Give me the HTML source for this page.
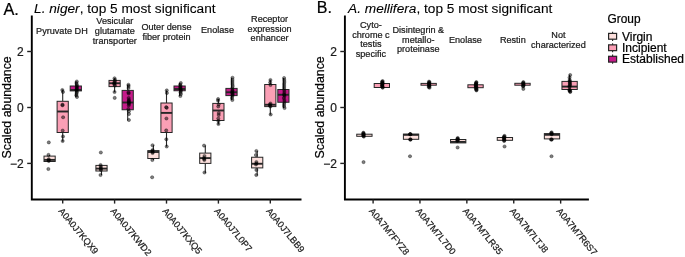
<!DOCTYPE html>
<html><head><meta charset="utf-8"><style>
html,body{margin:0;padding:0;background:#fff;}
svg{display:block;will-change:transform;font-family:"Liberation Sans",sans-serif;}
text{stroke:currentColor;stroke-width:0.22px;}
</style></head><body>
<svg width="685" height="257" viewBox="0 0 685 257">
<rect width="685" height="257" fill="#fff"/>
<g stroke="#000" stroke-width="1.9" fill="none" stroke-linecap="butt">
<path d="M31.8 15.5 V199.5 H301.5"/>
<path d="M344.9 15.5 V199.5 H588.9"/>
</g>
<g stroke="#222" stroke-width="1.4">
<line x1="62.7" y1="199.5" x2="62.7" y2="203.6"/>
<line x1="114.6" y1="199.5" x2="114.6" y2="203.6"/>
<line x1="166.5" y1="199.5" x2="166.5" y2="203.6"/>
<line x1="218.4" y1="199.5" x2="218.4" y2="203.6"/>
<line x1="270.3" y1="199.5" x2="270.3" y2="203.6"/>
<line x1="373.1" y1="199.5" x2="373.1" y2="203.6"/>
<line x1="419.95" y1="199.5" x2="419.95" y2="203.6"/>
<line x1="466.85" y1="199.5" x2="466.85" y2="203.6"/>
<line x1="513.75" y1="199.5" x2="513.75" y2="203.6"/>
<line x1="560.65" y1="199.5" x2="560.65" y2="203.6"/>
<line x1="27.20" y1="51.5" x2="31.8" y2="51.5"/>
<line x1="27.20" y1="107.5" x2="31.8" y2="107.5"/>
<line x1="27.20" y1="163.4" x2="31.8" y2="163.4"/>
<line x1="340.30" y1="51.5" x2="344.9" y2="51.5"/>
<line x1="340.30" y1="107.5" x2="344.9" y2="107.5"/>
<line x1="340.30" y1="163.4" x2="344.9" y2="163.4"/>
</g>
<line x1="49.6" y1="155.0" x2="49.6" y2="156.1" stroke="#262626" stroke-width="1.1"/>
<rect x="44.00" y="156.1" width="11.20" height="5.40" fill="#FDE0DD" stroke="#262626" stroke-width="1.0"/>
<line x1="44.00" y1="159.9" x2="55.20" y2="159.9" stroke="#262626" stroke-width="1.9"/>
<line x1="62.7" y1="89.5" x2="62.7" y2="101.3" stroke="#262626" stroke-width="1.1"/>
<line x1="62.7" y1="132.5" x2="62.7" y2="141.5" stroke="#262626" stroke-width="1.1"/>
<rect x="57.10" y="101.3" width="11.20" height="31.20" fill="#FA9FB5" stroke="#262626" stroke-width="1.0"/>
<line x1="57.10" y1="111.5" x2="68.30" y2="111.5" stroke="#262626" stroke-width="1.9"/>
<line x1="75.8" y1="81.5" x2="75.8" y2="86.0" stroke="#262626" stroke-width="1.1"/>
<line x1="75.8" y1="90.9" x2="75.8" y2="97.0" stroke="#262626" stroke-width="1.1"/>
<rect x="70.20" y="86.0" width="11.20" height="4.90" fill="#C51B8A" stroke="#262626" stroke-width="1.0"/>
<line x1="70.20" y1="90.0" x2="81.40" y2="90.0" stroke="#262626" stroke-width="1.9"/>
<line x1="101.5" y1="165.0" x2="101.5" y2="165.4" stroke="#262626" stroke-width="1.1"/>
<line x1="101.5" y1="171.0" x2="101.5" y2="175.0" stroke="#262626" stroke-width="1.1"/>
<rect x="95.90" y="165.4" width="11.20" height="5.60" fill="#FDE0DD" stroke="#262626" stroke-width="1.0"/>
<line x1="95.90" y1="168.6" x2="107.10" y2="168.6" stroke="#262626" stroke-width="1.9"/>
<line x1="114.6" y1="78.3" x2="114.6" y2="80.4" stroke="#262626" stroke-width="1.1"/>
<line x1="114.6" y1="86.6" x2="114.6" y2="92.25" stroke="#262626" stroke-width="1.1"/>
<rect x="109.00" y="80.4" width="11.20" height="6.20" fill="#FA9FB5" stroke="#262626" stroke-width="1.0"/>
<line x1="109.00" y1="83.25" x2="120.20" y2="83.25" stroke="#262626" stroke-width="1.9"/>
<line x1="127.69999999999999" y1="84.75" x2="127.69999999999999" y2="90.4" stroke="#262626" stroke-width="1.1"/>
<line x1="127.69999999999999" y1="109.75" x2="127.69999999999999" y2="120.6" stroke="#262626" stroke-width="1.1"/>
<rect x="122.10" y="90.4" width="11.20" height="19.35" fill="#C51B8A" stroke="#262626" stroke-width="1.0"/>
<line x1="122.10" y1="102.5" x2="133.30" y2="102.5" stroke="#262626" stroke-width="1.9"/>
<line x1="153.4" y1="145.25" x2="153.4" y2="150.6" stroke="#262626" stroke-width="1.1"/>
<line x1="153.4" y1="158.5" x2="153.4" y2="160.0" stroke="#262626" stroke-width="1.1"/>
<rect x="147.80" y="150.6" width="11.20" height="7.90" fill="#FDE0DD" stroke="#262626" stroke-width="1.0"/>
<line x1="147.80" y1="152.0" x2="159.00" y2="152.0" stroke="#262626" stroke-width="1.9"/>
<line x1="166.5" y1="90.4" x2="166.5" y2="103.0" stroke="#262626" stroke-width="1.1"/>
<line x1="166.5" y1="132.5" x2="166.5" y2="146.6" stroke="#262626" stroke-width="1.1"/>
<rect x="160.90" y="103.0" width="11.20" height="29.50" fill="#FA9FB5" stroke="#262626" stroke-width="1.0"/>
<line x1="160.90" y1="112.9" x2="172.10" y2="112.9" stroke="#262626" stroke-width="1.9"/>
<line x1="179.6" y1="83.0" x2="179.6" y2="86.0" stroke="#262626" stroke-width="1.1"/>
<line x1="179.6" y1="90.75" x2="179.6" y2="96.0" stroke="#262626" stroke-width="1.1"/>
<rect x="174.00" y="86.0" width="11.20" height="4.75" fill="#C51B8A" stroke="#262626" stroke-width="1.0"/>
<line x1="174.00" y1="89.0" x2="185.20" y2="89.0" stroke="#262626" stroke-width="1.9"/>
<line x1="205.3" y1="145.6" x2="205.3" y2="153.1" stroke="#262626" stroke-width="1.1"/>
<line x1="205.3" y1="163.4" x2="205.3" y2="173.0" stroke="#262626" stroke-width="1.1"/>
<rect x="199.70" y="153.1" width="11.20" height="10.30" fill="#FDE0DD" stroke="#262626" stroke-width="1.0"/>
<line x1="199.70" y1="158.1" x2="210.90" y2="158.1" stroke="#262626" stroke-width="1.9"/>
<line x1="218.4" y1="99.0" x2="218.4" y2="103.4" stroke="#262626" stroke-width="1.1"/>
<line x1="218.4" y1="120.5" x2="218.4" y2="124.6" stroke="#262626" stroke-width="1.1"/>
<rect x="212.80" y="103.4" width="11.20" height="17.10" fill="#FA9FB5" stroke="#262626" stroke-width="1.0"/>
<line x1="212.80" y1="110.5" x2="224.00" y2="110.5" stroke="#262626" stroke-width="1.9"/>
<line x1="231.5" y1="77.75" x2="231.5" y2="88.4" stroke="#262626" stroke-width="1.1"/>
<line x1="231.5" y1="95.6" x2="231.5" y2="100.0" stroke="#262626" stroke-width="1.1"/>
<rect x="225.90" y="88.4" width="11.20" height="7.20" fill="#C51B8A" stroke="#262626" stroke-width="1.0"/>
<line x1="225.90" y1="92.25" x2="237.10" y2="92.25" stroke="#262626" stroke-width="1.9"/>
<line x1="257.2" y1="151.0" x2="257.2" y2="157.25" stroke="#262626" stroke-width="1.1"/>
<line x1="257.2" y1="167.9" x2="257.2" y2="175.4" stroke="#262626" stroke-width="1.1"/>
<rect x="251.60" y="157.25" width="11.20" height="10.65" fill="#FDE0DD" stroke="#262626" stroke-width="1.0"/>
<line x1="251.60" y1="163.75" x2="262.80" y2="163.75" stroke="#262626" stroke-width="1.9"/>
<line x1="270.3" y1="79.75" x2="270.3" y2="84.5" stroke="#262626" stroke-width="1.1"/>
<line x1="270.3" y1="106.6" x2="270.3" y2="114.75" stroke="#262626" stroke-width="1.1"/>
<rect x="264.70" y="84.5" width="11.20" height="22.10" fill="#FA9FB5" stroke="#262626" stroke-width="1.0"/>
<line x1="264.70" y1="104.75" x2="275.90" y2="104.75" stroke="#262626" stroke-width="1.9"/>
<line x1="283.40000000000003" y1="78.0" x2="283.40000000000003" y2="89.5" stroke="#262626" stroke-width="1.1"/>
<line x1="283.40000000000003" y1="102.25" x2="283.40000000000003" y2="107.9" stroke="#262626" stroke-width="1.1"/>
<rect x="277.80" y="89.5" width="11.20" height="12.75" fill="#C51B8A" stroke="#262626" stroke-width="1.0"/>
<line x1="277.80" y1="94.75" x2="289.00" y2="94.75" stroke="#262626" stroke-width="1.9"/>
<rect x="356.75" y="134.2" width="15.30" height="2.10" fill="#FDE0DD" stroke="#262626" stroke-width="1.0"/>
<rect x="374.20" y="83.5" width="15.30" height="4.00" fill="#FA9FB5" stroke="#262626" stroke-width="1.0"/>
<rect x="403.40" y="134.1" width="15.30" height="5.20" fill="#FDE0DD" stroke="#262626" stroke-width="1.0"/>
<line x1="403.40" y1="134.85" x2="418.70" y2="134.85" stroke="#262626" stroke-width="1.9"/>
<rect x="421.00" y="83.4" width="15.30" height="1.80" fill="#FA9FB5" stroke="#262626" stroke-width="1.0"/>
<rect x="450.55" y="139.5" width="15.30" height="3.40" fill="#FDE0DD" stroke="#262626" stroke-width="1.0"/>
<line x1="450.55" y1="141.9" x2="465.85" y2="141.9" stroke="#262626" stroke-width="1.9"/>
<rect x="467.90" y="84.8" width="15.30" height="2.90" fill="#FA9FB5" stroke="#262626" stroke-width="1.0"/>
<rect x="497.25" y="137.5" width="15.30" height="2.80" fill="#FDE0DD" stroke="#262626" stroke-width="1.0"/>
<rect x="514.85" y="83.3" width="15.30" height="1.90" fill="#FA9FB5" stroke="#262626" stroke-width="1.0"/>
<rect x="544.35" y="133.6" width="15.30" height="5.30" fill="#FDE0DD" stroke="#262626" stroke-width="1.0"/>
<line x1="544.35" y1="134.8" x2="559.65" y2="134.8" stroke="#262626" stroke-width="1.9"/>
<line x1="569.6" y1="74.8" x2="569.6" y2="81.4" stroke="#262626" stroke-width="1.1"/>
<line x1="569.6" y1="89.5" x2="569.6" y2="92.0" stroke="#262626" stroke-width="1.1"/>
<rect x="561.95" y="81.4" width="15.30" height="8.10" fill="#FA9FB5" stroke="#262626" stroke-width="1.0"/>
<line x1="561.95" y1="86.6" x2="577.25" y2="86.6" stroke="#262626" stroke-width="1.9"/>
<g fill="#000" fill-opacity="0.5" stroke="#000" stroke-opacity="0.5" stroke-width="0.7">
<circle cx="48.49" cy="154.9" r="1.6"/>
<circle cx="48.74" cy="159.2" r="1.6"/>
<circle cx="48.60" cy="160.2" r="1.6"/>
<circle cx="48.78" cy="161.0" r="1.6"/>
<circle cx="48.80" cy="142.4" r="1.6"/>
<circle cx="48.35" cy="169.0" r="1.6"/>
<circle cx="62.31" cy="90" r="1.6"/>
<circle cx="62.97" cy="92" r="1.6"/>
<circle cx="62.51" cy="104.7" r="1.6"/>
<circle cx="62.49" cy="105.3" r="1.6"/>
<circle cx="63.10" cy="117.25" r="1.6"/>
<circle cx="62.68" cy="130.6" r="1.6"/>
<circle cx="62.97" cy="136.5" r="1.6"/>
<circle cx="62.68" cy="141" r="1.6"/>
<circle cx="76.81" cy="81.5" r="1.6"/>
<circle cx="76.42" cy="83" r="1.6"/>
<circle cx="76.81" cy="84.5" r="1.6"/>
<circle cx="76.99" cy="86" r="1.6"/>
<circle cx="76.72" cy="87" r="1.6"/>
<circle cx="76.89" cy="88" r="1.6"/>
<circle cx="76.84" cy="89" r="1.6"/>
<circle cx="76.35" cy="90" r="1.6"/>
<circle cx="76.91" cy="91" r="1.6"/>
<circle cx="76.77" cy="92.5" r="1.6"/>
<circle cx="76.54" cy="94" r="1.6"/>
<circle cx="76.32" cy="95.5" r="1.6"/>
<circle cx="76.99" cy="97" r="1.6"/>
<circle cx="100.58" cy="165" r="1.6"/>
<circle cx="100.78" cy="166.5" r="1.6"/>
<circle cx="100.90" cy="168" r="1.6"/>
<circle cx="100.77" cy="169" r="1.6"/>
<circle cx="100.94" cy="170" r="1.6"/>
<circle cx="100.52" cy="175" r="1.6"/>
<circle cx="100.84" cy="152.5" r="1.6"/>
<circle cx="114.56" cy="78.3" r="1.6"/>
<circle cx="114.95" cy="80" r="1.6"/>
<circle cx="114.90" cy="81.5" r="1.6"/>
<circle cx="114.28" cy="82.5" r="1.6"/>
<circle cx="114.31" cy="83.5" r="1.6"/>
<circle cx="114.37" cy="84.5" r="1.6"/>
<circle cx="114.97" cy="85.5" r="1.6"/>
<circle cx="114.55" cy="92" r="1.6"/>
<circle cx="114.70" cy="97.9" r="1.6"/>
<circle cx="128.44" cy="84.75" r="1.6"/>
<circle cx="128.61" cy="86" r="1.6"/>
<circle cx="128.51" cy="88" r="1.6"/>
<circle cx="128.48" cy="92.3" r="1.6"/>
<circle cx="128.67" cy="93.5" r="1.6"/>
<circle cx="128.67" cy="98" r="1.6"/>
<circle cx="128.92" cy="100" r="1.6"/>
<circle cx="128.75" cy="101" r="1.6"/>
<circle cx="128.94" cy="102" r="1.6"/>
<circle cx="128.89" cy="103" r="1.6"/>
<circle cx="128.99" cy="104" r="1.6"/>
<circle cx="128.74" cy="105.5" r="1.6"/>
<circle cx="128.33" cy="109" r="1.6"/>
<circle cx="128.89" cy="111.25" r="1.6"/>
<circle cx="128.97" cy="114" r="1.6"/>
<circle cx="128.92" cy="120" r="1.6"/>
<circle cx="152.56" cy="145.25" r="1.6"/>
<circle cx="152.67" cy="150" r="1.6"/>
<circle cx="152.27" cy="151" r="1.6"/>
<circle cx="152.77" cy="152" r="1.6"/>
<circle cx="152.56" cy="153" r="1.6"/>
<circle cx="152.33" cy="160" r="1.6"/>
<circle cx="152.15" cy="177.25" r="1.6"/>
<circle cx="166.78" cy="90.4" r="1.6"/>
<circle cx="166.89" cy="93" r="1.6"/>
<circle cx="166.17" cy="107.2" r="1.6"/>
<circle cx="166.74" cy="107.8" r="1.6"/>
<circle cx="166.43" cy="118.5" r="1.6"/>
<circle cx="166.22" cy="130.4" r="1.6"/>
<circle cx="166.34" cy="139.25" r="1.6"/>
<circle cx="166.72" cy="146.5" r="1.6"/>
<circle cx="180.80" cy="83" r="1.6"/>
<circle cx="180.14" cy="84.5" r="1.6"/>
<circle cx="180.59" cy="86" r="1.6"/>
<circle cx="180.14" cy="87" r="1.6"/>
<circle cx="180.67" cy="88" r="1.6"/>
<circle cx="180.36" cy="89" r="1.6"/>
<circle cx="180.80" cy="90" r="1.6"/>
<circle cx="180.88" cy="91" r="1.6"/>
<circle cx="180.50" cy="92.5" r="1.6"/>
<circle cx="180.90" cy="94" r="1.6"/>
<circle cx="180.35" cy="96" r="1.6"/>
<circle cx="204.06" cy="145.6" r="1.6"/>
<circle cx="204.48" cy="156" r="1.6"/>
<circle cx="204.03" cy="158" r="1.6"/>
<circle cx="204.16" cy="159" r="1.6"/>
<circle cx="204.33" cy="160" r="1.6"/>
<circle cx="204.49" cy="172.5" r="1.6"/>
<circle cx="218.12" cy="99" r="1.6"/>
<circle cx="218.03" cy="100.5" r="1.6"/>
<circle cx="218.69" cy="104.5" r="1.6"/>
<circle cx="218.25" cy="106.5" r="1.6"/>
<circle cx="218.77" cy="113" r="1.6"/>
<circle cx="218.72" cy="115" r="1.6"/>
<circle cx="218.30" cy="118.5" r="1.6"/>
<circle cx="218.37" cy="121" r="1.6"/>
<circle cx="218.42" cy="124" r="1.6"/>
<circle cx="232.52" cy="77.75" r="1.6"/>
<circle cx="232.48" cy="80" r="1.6"/>
<circle cx="232.45" cy="82" r="1.6"/>
<circle cx="232.50" cy="84" r="1.6"/>
<circle cx="232.75" cy="86" r="1.6"/>
<circle cx="232.41" cy="88" r="1.6"/>
<circle cx="232.34" cy="90" r="1.6"/>
<circle cx="232.58" cy="91" r="1.6"/>
<circle cx="232.19" cy="92" r="1.6"/>
<circle cx="232.24" cy="93" r="1.6"/>
<circle cx="232.78" cy="94" r="1.6"/>
<circle cx="232.42" cy="95" r="1.6"/>
<circle cx="232.44" cy="96" r="1.6"/>
<circle cx="232.01" cy="98" r="1.6"/>
<circle cx="232.33" cy="100" r="1.6"/>
<circle cx="256.36" cy="151" r="1.6"/>
<circle cx="255.92" cy="155" r="1.6"/>
<circle cx="256.39" cy="162" r="1.6"/>
<circle cx="256.41" cy="163.5" r="1.6"/>
<circle cx="255.95" cy="164.5" r="1.6"/>
<circle cx="256.40" cy="170" r="1.6"/>
<circle cx="256.27" cy="175" r="1.6"/>
<circle cx="270.44" cy="80" r="1.6"/>
<circle cx="270.18" cy="82.5" r="1.6"/>
<circle cx="270.47" cy="85" r="1.6"/>
<circle cx="270.49" cy="103.5" r="1.6"/>
<circle cx="269.92" cy="104.5" r="1.6"/>
<circle cx="269.95" cy="105.5" r="1.6"/>
<circle cx="270.44" cy="106.5" r="1.6"/>
<circle cx="270.67" cy="114.5" r="1.6"/>
<circle cx="284.10" cy="78" r="1.6"/>
<circle cx="284.27" cy="80" r="1.6"/>
<circle cx="284.37" cy="82" r="1.6"/>
<circle cx="284.16" cy="84" r="1.6"/>
<circle cx="284.19" cy="86" r="1.6"/>
<circle cx="284.15" cy="88" r="1.6"/>
<circle cx="284.20" cy="90" r="1.6"/>
<circle cx="284.38" cy="92" r="1.6"/>
<circle cx="284.14" cy="94" r="1.6"/>
<circle cx="284.20" cy="95" r="1.6"/>
<circle cx="284.52" cy="96" r="1.6"/>
<circle cx="283.92" cy="98" r="1.6"/>
<circle cx="284.36" cy="100" r="1.6"/>
<circle cx="284.49" cy="102" r="1.6"/>
<circle cx="284.15" cy="104" r="1.6"/>
<circle cx="284.08" cy="106" r="1.6"/>
<circle cx="284.54" cy="108" r="1.6"/>
<circle cx="363.39" cy="132.7" r="1.6"/>
<circle cx="363.35" cy="133.25714285714284" r="1.6"/>
<circle cx="363.55" cy="133.81428571428572" r="1.6"/>
<circle cx="363.76" cy="134.37142857142857" r="1.6"/>
<circle cx="363.28" cy="134.92857142857142" r="1.6"/>
<circle cx="363.46" cy="135.48571428571427" r="1.6"/>
<circle cx="363.47" cy="136.04285714285714" r="1.6"/>
<circle cx="363.87" cy="136.6" r="1.6"/>
<circle cx="363.55" cy="162.1" r="1.6"/>
<circle cx="382.68" cy="81.1" r="1.6"/>
<circle cx="382.14" cy="81.69999999999999" r="1.6"/>
<circle cx="382.27" cy="82.3" r="1.6"/>
<circle cx="382.52" cy="82.89999999999999" r="1.6"/>
<circle cx="382.71" cy="83.5" r="1.6"/>
<circle cx="382.36" cy="84.1" r="1.6"/>
<circle cx="382.18" cy="84.7" r="1.6"/>
<circle cx="382.10" cy="85.3" r="1.6"/>
<circle cx="382.42" cy="85.9" r="1.6"/>
<circle cx="382.15" cy="86.5" r="1.6"/>
<circle cx="382.65" cy="87.10000000000001" r="1.6"/>
<circle cx="382.67" cy="87.7" r="1.6"/>
<circle cx="410.05" cy="134.2" r="1.6"/>
<circle cx="410.12" cy="134.2" r="1.6"/>
<circle cx="410.55" cy="134.2" r="1.6"/>
<circle cx="410.41" cy="139.5" r="1.6"/>
<circle cx="410.55" cy="139.5" r="1.6"/>
<circle cx="410.18" cy="139.5" r="1.6"/>
<circle cx="410.00" cy="156.25" r="1.6"/>
<circle cx="429.03" cy="81.6" r="1.6"/>
<circle cx="429.44" cy="82.21" r="1.6"/>
<circle cx="429.02" cy="82.82" r="1.6"/>
<circle cx="429.08" cy="83.42999999999999" r="1.6"/>
<circle cx="429.13" cy="84.03999999999999" r="1.6"/>
<circle cx="429.14" cy="84.65" r="1.6"/>
<circle cx="429.13" cy="85.26" r="1.6"/>
<circle cx="429.54" cy="85.87" r="1.6"/>
<circle cx="428.92" cy="86.48" r="1.6"/>
<circle cx="428.80" cy="87.09" r="1.6"/>
<circle cx="429.55" cy="87.7" r="1.6"/>
<circle cx="457.70" cy="138.0" r="1.6"/>
<circle cx="457.79" cy="138.6" r="1.6"/>
<circle cx="457.35" cy="139.2" r="1.6"/>
<circle cx="457.76" cy="139.8" r="1.6"/>
<circle cx="457.74" cy="140.4" r="1.6"/>
<circle cx="457.18" cy="141.0" r="1.6"/>
<circle cx="457.60" cy="147.5" r="1.6"/>
<circle cx="476.37" cy="82.1" r="1.6"/>
<circle cx="476.23" cy="82.69285714285714" r="1.6"/>
<circle cx="476.12" cy="83.28571428571428" r="1.6"/>
<circle cx="475.93" cy="83.87857142857142" r="1.6"/>
<circle cx="475.97" cy="84.47142857142858" r="1.6"/>
<circle cx="475.88" cy="85.06428571428572" r="1.6"/>
<circle cx="475.75" cy="85.65714285714286" r="1.6"/>
<circle cx="476.17" cy="86.25" r="1.6"/>
<circle cx="475.93" cy="86.84285714285714" r="1.6"/>
<circle cx="476.35" cy="87.43571428571428" r="1.6"/>
<circle cx="475.74" cy="88.02857142857142" r="1.6"/>
<circle cx="476.42" cy="88.62142857142858" r="1.6"/>
<circle cx="476.25" cy="89.21428571428572" r="1.6"/>
<circle cx="476.44" cy="89.80714285714286" r="1.6"/>
<circle cx="476.42" cy="90.4" r="1.6"/>
<circle cx="504.52" cy="135.9" r="1.6"/>
<circle cx="504.26" cy="136.5375" r="1.6"/>
<circle cx="503.81" cy="137.175" r="1.6"/>
<circle cx="504.40" cy="137.8125" r="1.6"/>
<circle cx="503.94" cy="138.45" r="1.6"/>
<circle cx="504.04" cy="139.0875" r="1.6"/>
<circle cx="504.33" cy="139.725" r="1.6"/>
<circle cx="504.22" cy="140.3625" r="1.6"/>
<circle cx="504.13" cy="141.0" r="1.6"/>
<circle cx="504.55" cy="146.5" r="1.6"/>
<circle cx="523.39" cy="82.1" r="1.6"/>
<circle cx="523.17" cy="82.72857142857143" r="1.6"/>
<circle cx="523.10" cy="83.35714285714285" r="1.6"/>
<circle cx="523.59" cy="83.98571428571428" r="1.6"/>
<circle cx="523.28" cy="84.61428571428571" r="1.6"/>
<circle cx="523.53" cy="85.24285714285715" r="1.6"/>
<circle cx="523.18" cy="85.87142857142857" r="1.6"/>
<circle cx="523.06" cy="86.5" r="1.6"/>
<circle cx="523.33" cy="88.9" r="1.6"/>
<circle cx="551.65" cy="132.4" r="1.6"/>
<circle cx="551.14" cy="133.03333333333333" r="1.6"/>
<circle cx="551.63" cy="133.66666666666669" r="1.6"/>
<circle cx="551.74" cy="134.3" r="1.6"/>
<circle cx="551.64" cy="139.5" r="1.6"/>
<circle cx="551.66" cy="139.5" r="1.6"/>
<circle cx="551.01" cy="139.5" r="1.6"/>
<circle cx="551.50" cy="156.25" r="1.6"/>
<circle cx="570.19" cy="75" r="1.6"/>
<circle cx="569.54" cy="77.6" r="1.6"/>
<circle cx="569.72" cy="80.0" r="1.6"/>
<circle cx="569.71" cy="81.0" r="1.6"/>
<circle cx="569.92" cy="82.0" r="1.6"/>
<circle cx="569.84" cy="83.0" r="1.6"/>
<circle cx="569.88" cy="84.0" r="1.6"/>
<circle cx="570.12" cy="85.0" r="1.6"/>
<circle cx="569.50" cy="86.0" r="1.6"/>
<circle cx="569.54" cy="87.0" r="1.6"/>
<circle cx="569.60" cy="89.6" r="1.6"/>
<circle cx="569.60" cy="90.19999999999999" r="1.6"/>
<circle cx="569.55" cy="90.8" r="1.6"/>
<circle cx="570.28" cy="91.4" r="1.6"/>
<circle cx="570.18" cy="92.0" r="1.6"/>
</g>
<g font-size="12" fill="#1a1a1a" color="#1a1a1a" text-anchor="end">
<text x="23.8" y="55.8">2</text>
<text x="23.8" y="111.8">0</text>
<text x="23.8" y="167.70000000000002">−2</text>
<text x="336.9" y="55.8">2</text>
<text x="336.9" y="111.8">0</text>
<text x="336.9" y="167.70000000000002">−2</text>
</g>
<text font-size="12.35" text-anchor="middle" transform="translate(10.6,107.4) rotate(-90)">Scaled abundance</text>
<text font-size="12.35" text-anchor="middle" transform="translate(323.8,107.4) rotate(-90)">Scaled abundance</text>
<g font-size="9.17" fill="#1a1a1a" color="#1a1a1a">
<text transform="translate(58.10,211.2) rotate(50.5)">A0A0J7KQX9</text>
<text transform="translate(110.00,211.2) rotate(50.5)">A0A0J7KWD2</text>
<text transform="translate(161.90,211.2) rotate(50.5)">A0A0J7KXQ5</text>
<text transform="translate(213.80,211.2) rotate(50.5)">A0A0J7L0P7</text>
<text transform="translate(265.70,211.2) rotate(50.5)">A0A0J7LBB9</text>
<text transform="translate(368.50,211.2) rotate(50.5)">A0A7M7FYZ8</text>
<text transform="translate(415.35,211.2) rotate(50.5)">A0A7M7L7D0</text>
<text transform="translate(462.25,211.2) rotate(50.5)">A0A7M7LR35</text>
<text transform="translate(509.15,211.2) rotate(50.5)">A0A7M7LTJ8</text>
<text transform="translate(556.05,211.2) rotate(50.5)">A0A7M7R6S7</text>
</g>
<g font-size="9.12" fill="#1a1a1a" color="#1a1a1a" text-anchor="middle">
<text x="61.9" y="34.25">Pyruvate DH</text>
<text x="114.85" y="23.8">Vesicular</text>
<text x="114.85" y="33.7">glutamate</text>
<text x="114.85" y="43.6">transporter</text>
<text x="166.5" y="30.2">Outer dense</text>
<text x="166.5" y="40.1">fiber protein</text>
<text x="217.5" y="33.4">Enolase</text>
<text x="269.6" y="21.8">Receptor</text>
<text x="269.6" y="31.6">expression</text>
<text x="269.6" y="41.4">enhancer</text>
<text x="370.9" y="28.2">Cyto-</text>
<text x="370.9" y="37.7">chrome c</text>
<text x="370.9" y="47.2">testis</text>
<text x="370.9" y="56.7">specific</text>
<text x="418.3" y="33.0">Disintegrin &amp;</text>
<text x="418.3" y="42.6">metallo-</text>
<text x="418.3" y="52.2">proteinase</text>
<text x="465.4" y="42.9">Enolase</text>
<text x="512.8" y="42.8">Restin</text>
<text x="558.4" y="38.3">Not</text>
<text x="558.4" y="48.2">characterized</text>
</g>
<text x="3.4" y="14.6" font-size="16.3">A.</text>
<text x="316.8" y="12.7" font-size="16">B.</text>
<text x="34.1" y="12.55" font-size="13.67" style="stroke-width:0.1px"><tspan font-style="italic">L. niger</tspan>, top 5 most significant</text>
<text x="348.1" y="12.55" font-size="13.67" style="stroke-width:0.1px"><tspan font-style="italic">A. mellifera</tspan>, top 5 most significant</text>
<text x="607.5" y="22.9" font-size="11.9">Group</text>
<line x1="612.6" y1="31.70" x2="612.6" y2="40.90" stroke="#262626" stroke-width="1.1"/>
<rect x="608.6" y="33.40" width="8" height="5.8" fill="#FDE0DD" stroke="#262626" stroke-width="1.2"/>
<text x="622" y="40.50" font-size="12">Virgin</text>
<line x1="612.6" y1="43.15" x2="612.6" y2="52.35" stroke="#262626" stroke-width="1.1"/>
<rect x="608.6" y="44.85" width="8" height="5.8" fill="#FA9FB5" stroke="#262626" stroke-width="1.2"/>
<text x="622" y="51.73" font-size="12">Incipient</text>
<line x1="612.6" y1="54.60" x2="612.6" y2="63.80" stroke="#262626" stroke-width="1.1"/>
<rect x="608.6" y="56.30" width="8" height="5.8" fill="#C51B8A" stroke="#262626" stroke-width="1.2"/>
<text x="622" y="62.96" font-size="12">Established</text>
</svg>
</body></html>
